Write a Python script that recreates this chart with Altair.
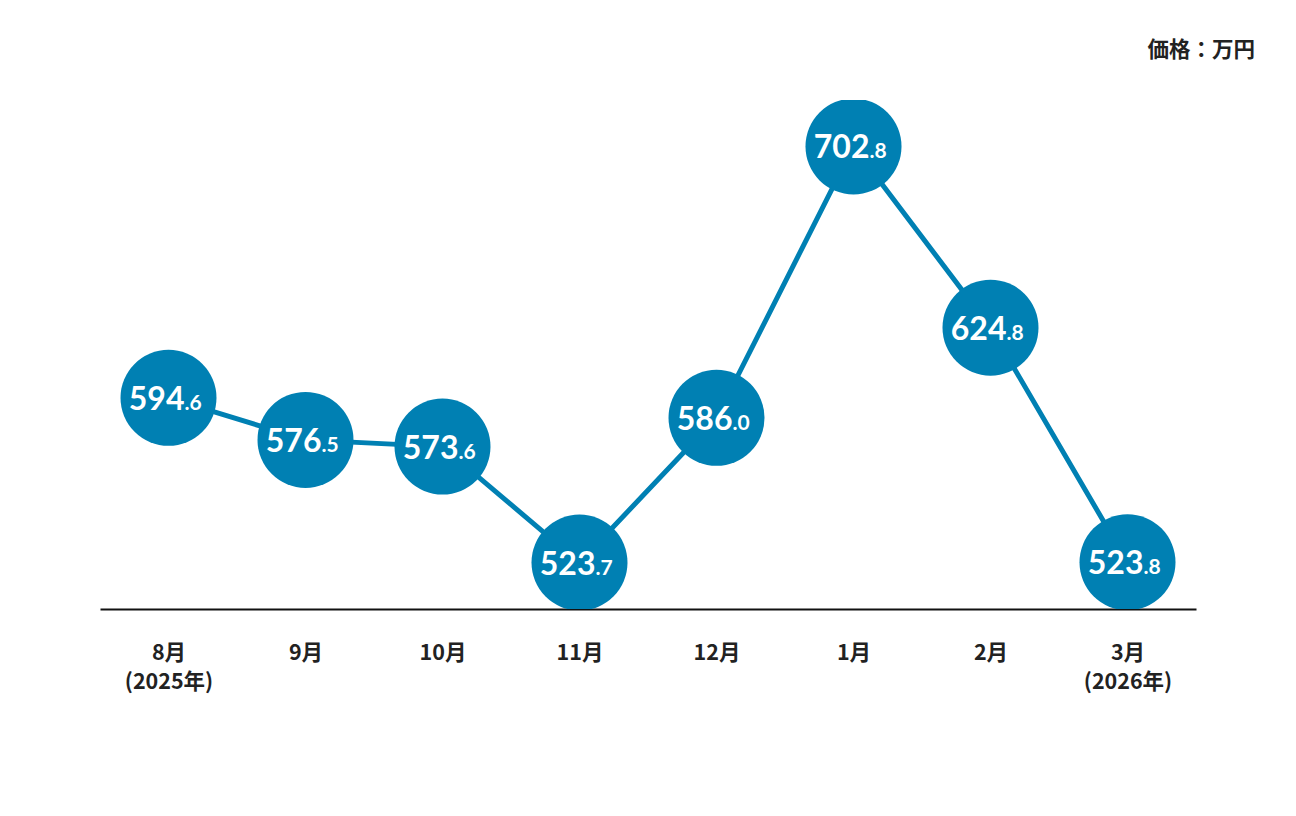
import altair as alt
import pandas as pd

months = ["8月|(2025年)", "9月", "10月", "11月", "12月", "1月", "2月", "3月|(2026年)"]
values = [594.6, 576.5, 573.6, 523.7, 586.0, 702.8, 624.8, 523.8]
int_parts = ["594", "576", "573", "523", "586", "702", "624", "523"]
dec_parts = [".6", ".5", ".6", ".7", ".0", ".8", ".8", ".8"]
unit_label = "価格：万円"

BLUE = "#0080b3"
df = pd.DataFrame({"month": months, "value": values, "ip": int_parts, "dp": dec_parts})

x = alt.X("month:N", sort=months, title=None,
          scale=alt.Scale(type="point", padding=0.5),
          axis=alt.Axis(labelExpr="split(datum.label, '|')", labelAngle=0,
                        labelFont="Noto Sans CJK JP", labelFontSize=21.5, labelFontWeight="bold",
                        labelColor="#222222", labelPadding=33, labelBaseline="top",
                        labelLineHeight=29, ticks=False, domainColor="#111111",
                        domainWidth=2, grid=False))
y = alt.Y("value:Q", scale=alt.Scale(domain=[503.7, 722.8], nice=False, zero=False), axis=None)

base = alt.Chart(df)
line = base.mark_line(color=BLUE, strokeWidth=5, clip=True).encode(x=x, y=y)
dots = base.mark_circle(color=BLUE, opacity=1, size=9216, clip=True).encode(x=x, y=y)
ipt = base.mark_text(font="Lato", fontWeight="bold", fontSize=32, color="white",
                     align="right", baseline="alphabetic", dx=16, dy=12).encode(x=x, y=y, text="ip:N")
dpt = base.mark_text(font="Lato", fontWeight="bold", fontSize=21, color="white",
                     align="left", baseline="alphabetic", dx=16, dy=12).encode(x=x, y=y, text="dp:N")
unit = alt.Chart(pd.DataFrame({"t": [unit_label]})).mark_text(
    font="Noto Sans CJK JP", fontWeight="bold", fontSize=21.5, color="#222222",
    align="right", baseline="middle").encode(x=alt.value(1155), y=alt.value(-49), text="t:N")

chart = alt.layer(line, dots, ipt, dpt, unit).properties(
    width=1096, height=509,
    autosize=alt.AutoSizeParams(type="none"),
    padding={"left": 92, "top": 92, "right": 92, "bottom": 199},
).configure_view(stroke=None)

chart.save("out.html", embed_options={"renderer": "svg", "actions": False})
